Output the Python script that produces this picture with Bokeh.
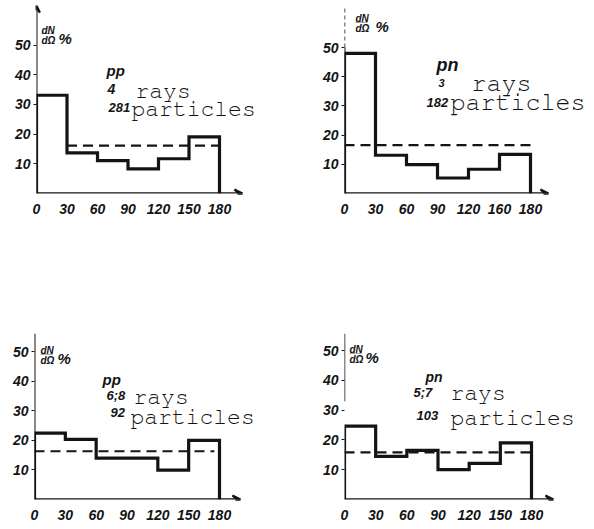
from bokeh.plotting import figure
from bokeh.layouts import column, row
from bokeh.models import Arrow, VeeHead, Label, FixedTicker, Range1d
from bokeh.embed import file_html
from bokeh.resources import INLINE

# ---------------- data ----------------
bin_edges = [0, 30, 60, 90, 120, 150, 180]
y_ticks = [10, 20, 30, 40, 50]

pp_4_rays = [33.1, 13.7, 11.1, 8.3, 11.7, 19.1]      # 4 rays, 281 particles
pn_3_rays = [48.0, 13.1, 9.9, 5.3, 8.3, 13.4]        # 3 rays, 182 particles
pp_68_rays = [22.4, 20.3, 14.0, 14.0, 9.9, 20.0]     # 6;8 rays, 92 particles
pn_57_rays = [24.6, 14.5, 16.5, 10.0, 12.1, 19.0]    # 5;7 rays, 103 particles
isotropic_level = [16.1, 16.6, 16.3, 15.8]

x_labels_1 = ["0", "30", "60", "90", "120", "150", "180"]
x_labels_2 = ["0", "30", "60", "90", "120", "160", "180"]
x_labels_3 = ["0", "30", "60", "90", "120", "150", "180"]
x_labels_4 = ["0", "30", "60", "90", "120", "150", "180"]

reaction = ["pp", "pn", "pp", "pn"]
rays = ["4", "3", "6;8", "5;7"]
particles = ["281", "182", "92", "103"]

INK = "#141414"
HAND = "Liberation Sans"
TYPE = "'Nimbus Mono PS', 'FreeMono', 'Courier New', Courier, 'Liberation Mono', monospace"


def step_path(edges, vals):
    xs, ys = [edges[0]], [0]
    for i, v in enumerate(vals):
        xs += [edges[i], edges[i + 1]]
        ys += [v, v]
    xs.append(edges[-1])
    ys.append(0)
    return xs, ys


def make_panel(vals, level, xlabels, idx, geo, texts, dash_span, yaxis_mode):
    W, H, ox, oy, sx, sy, arrow_px, top = geo
    xend = (W - ox) / sx
    yend = (oy - top) / sy
    xarrow = (arrow_px - ox) / sx
    p = figure(width=W, height=H, output_backend="svg", toolbar_location=None,
               x_range=Range1d(0, xend), y_range=Range1d(0, yend),
               min_border_left=ox, min_border_right=0,
               min_border_top=top, min_border_bottom=H - oy)
    p.outline_line_color = None
    p.xgrid.visible = False
    p.ygrid.visible = False
    p.background_fill_color = "white"
    p.border_fill_color = "white"

    def X(lx):
        return (lx - ox) / sx

    def Y(ly):
        return (oy - ly) / sy

    # axes styling
    p.xaxis.ticker = FixedTicker(ticks=bin_edges)
    p.xaxis.major_label_overrides = {e: l for e, l in zip(bin_edges, xlabels)}
    p.xaxis.axis_line_color = None
    p.xaxis.major_tick_line_color = None
    p.xaxis.minor_tick_line_color = None
    p.xaxis.major_label_standoff = 4
    p.yaxis.ticker = FixedTicker(ticks=y_ticks)
    p.yaxis.axis_line_color = None
    p.yaxis.major_tick_line_color = INK
    p.yaxis.major_tick_in = 0
    p.yaxis.major_tick_out = 3
    p.yaxis.minor_tick_line_color = None
    p.yaxis.major_label_standoff = 3
    for ax in (p.xaxis, p.yaxis):
        ax.major_label_text_font = HAND
        ax.major_label_text_font_style = "bold italic"
        ax.major_label_text_font_size = "14px"
        ax.major_label_text_color = INK

    # x axis with arrow
    p.add_layout(Arrow(x_start=0, y_start=0, x_end=xarrow, y_end=0,
                       line_width=2.5, line_color=INK,
                       end=VeeHead(size=8, line_color=INK, line_width=2, fill_color=INK)))
    # y axis
    if yaxis_mode == "arrow":
        p.add_layout(Arrow(x_start=0, y_start=0, x_end=0, y_end=yend,
                           line_width=2, line_color=INK,
                           end=VeeHead(size=7, line_color=INK, line_width=2, fill_color=INK)))
    elif yaxis_mode == "dashedtop":
        p.line([0, 0], [0, 50], line_width=2, line_color=INK)
        p.line([0, 0], [50, yend], line_width=1.5, line_color=INK, line_dash="4 3")
    elif yaxis_mode == "plain":
        p.line([0, 0], [0, yend], line_width=2, line_color=INK)
    elif yaxis_mode == "top":
        p.line([0, 0], [33, yend], line_width=1.5, line_color=INK)

    # histogram outline
    xs, ys = step_path(bin_edges, vals)
    p.line(xs, ys, line_width=3.2, line_color=INK, line_join="miter")
    # isotropic level
    p.line([dash_span[0], dash_span[1]], [level, level], line_width=2.2,
           line_color=INK, line_dash="10 6")

    # axis title dN/dΩ %
    (ax_x, ax_y, pc_x) = texts["axis"]
    p.add_layout(Label(x=X(ax_x), y=Y(ax_y), text="dN", text_font=HAND,
                       text_font_style="bold italic", text_font_size="10px",
                       text_color=INK, text_baseline="alphabetic"))
    p.add_layout(Label(x=X(ax_x), y=Y(ax_y + 3), text="——", text_font=HAND,
                       text_font_size="6px", text_color=INK, text_baseline="middle"))
    p.add_layout(Label(x=X(ax_x), y=Y(ax_y + 10), text="dΩ", text_font=HAND,
                       text_font_style="bold italic", text_font_size="10px",
                       text_color=INK, text_baseline="alphabetic"))
    p.add_layout(Label(x=X(pc_x), y=Y(ax_y + 8), text="%", text_font=HAND,
                       text_font_style="bold italic", text_font_size="15px",
                       text_color=INK, text_baseline="alphabetic"))

    # annotation
    tx = texts
    p.add_layout(Label(x=X(tx["reac"][0]), y=Y(tx["reac"][1]), text=reaction[idx],
                       text_font=HAND, text_font_style="bold italic",
                       text_font_size=tx["reac"][2], text_color=INK,
                       text_baseline="alphabetic"))
    p.add_layout(Label(x=X(tx["nr"][0]), y=Y(tx["nr"][1]), text=rays[idx],
                       text_font=HAND, text_font_style="bold italic",
                       text_font_size=tx["nrsize"], text_color=INK,
                       text_baseline="alphabetic"))
    p.add_layout(Label(x=X(tx["rays"][0]), y=Y(tx["rays"][1]), text="rays",
                       text_font=TYPE, text_font_size=tx["size"], text_color=INK,
                       text_baseline="alphabetic"))
    p.add_layout(Label(x=X(tx["np"][0]), y=Y(tx["np"][1]), text=particles[idx],
                       text_font=HAND, text_font_style="bold italic",
                       text_font_size="13px", text_color=INK,
                       text_baseline="alphabetic"))
    p.add_layout(Label(x=X(tx["part"][0]), y=Y(tx["part"][1]), text="particles",
                       text_font=TYPE, text_font_size=tx["size"], text_color=INK,
                       text_baseline="alphabetic"))
    return p


# geometry: W, H, origin x, origin y, px/unit x, px/unit y, x-arrow end px, frame top
geo1 = (297, 264, 36, 195, 183 / 180, 3.0, 242, 5)
geo2 = (297, 264, 47, 193, 186 / 180, 2.92, 251, 5)
geo3 = (297, 265, 34, 235, 185 / 180, 2.96, 240, 69)
geo4 = (297, 265, 47, 235, 187 / 180, 2.98, 256, 69)

t1 = {"axis": (41, 30, 58), "reac": (106, 71, "15px"), "nr": (107, 89), "nrsize": "14px",
      "rays": (135, 92), "np": (108, 108), "part": (131, 110), "size": "23px"}
t2 = {"axis": (58, 18, 78), "reac": (139, 64, "18px"), "nr": (141, 82), "nrsize": "11px",
      "rays": (174, 83), "np": (129, 102), "part": (153, 102), "size": "25px"}
t3 = {"axis": (40, 86, 57), "reac": (102, 115, "15px"), "nr": (106, 131), "nrsize": "13px",
      "rays": (133, 133), "np": (110, 148), "part": (130, 153), "size": "23px"}
t4 = {"axis": (52, 85, 68), "reac": (128, 112, "14px"), "nr": (116, 128), "nrsize": "13px",
      "rays": (153, 129), "np": (119, 151), "part": (153, 154), "size": "23px"}

p1 = make_panel(pp_4_rays, isotropic_level[0], x_labels_1, 0, geo1, t1, (30, 180), "arrow")
p2 = make_panel(pn_3_rays, isotropic_level[1], x_labels_2, 1, geo2, t2, (0, 182), "dashedtop")
p3 = make_panel(pp_68_rays, isotropic_level[2], x_labels_3, 2, geo3, t3, (0, 175), "plain")
p4 = make_panel(pn_57_rays, isotropic_level[3], x_labels_4, 3, geo4, t4, (0, 180), "top")

layout = column(row(p1, p2, spacing=0), row(p3, p4, spacing=0), spacing=0)

open("out.html", "w").write(file_html(layout, INLINE))
